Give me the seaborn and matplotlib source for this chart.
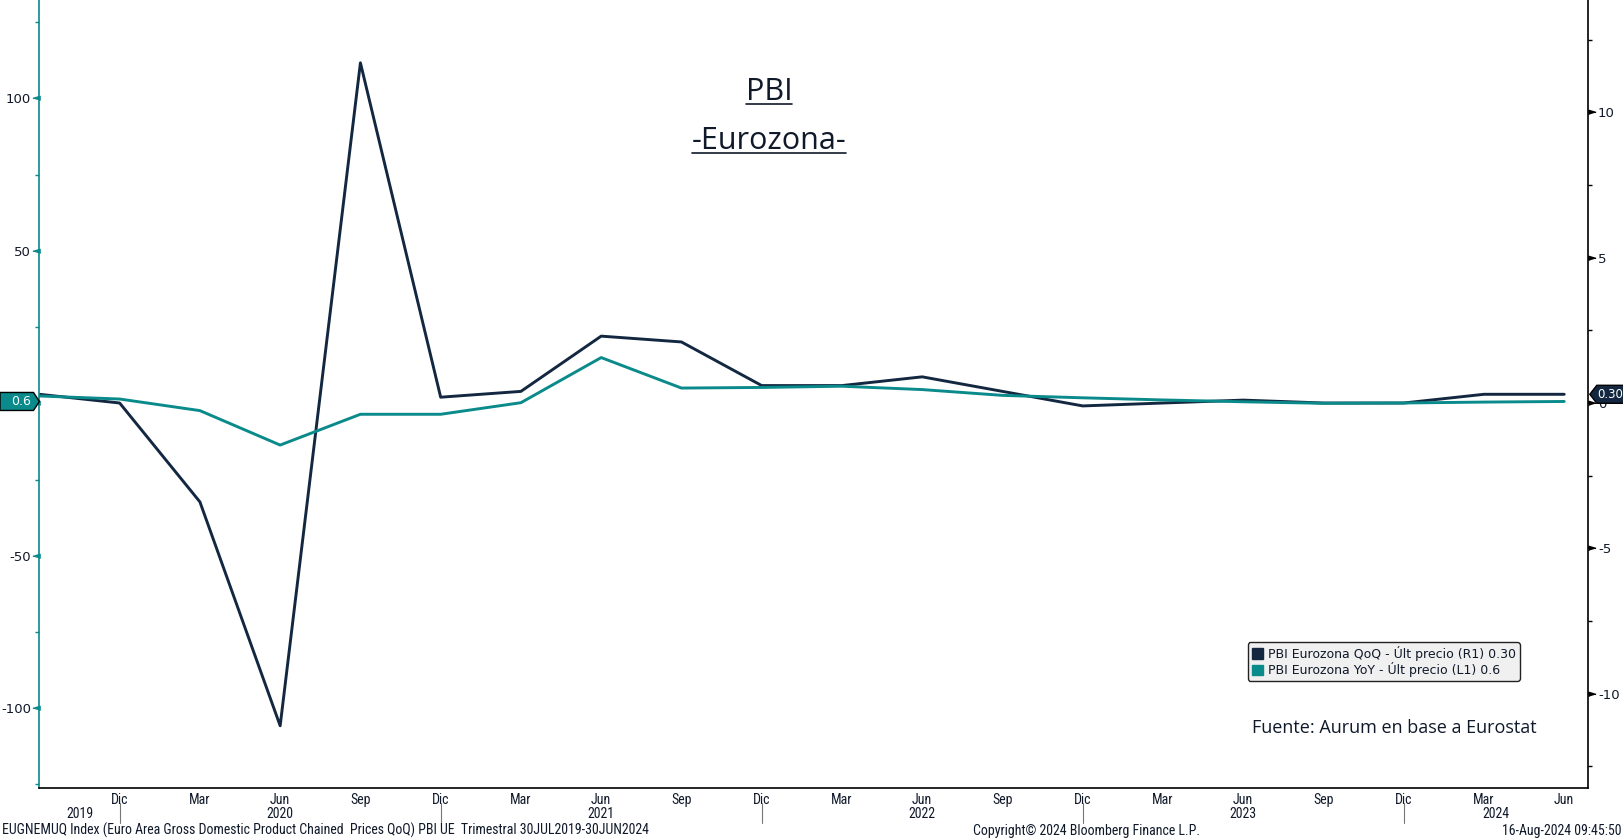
import numpy as np
import pandas as pd
import matplotlib
matplotlib.use('Agg')
import matplotlib.pyplot as plt
import seaborn as sns
from matplotlib import font_manager
from matplotlib.patches import Polygon, Patch
from matplotlib.lines import Line2D
from matplotlib.ticker import MultipleLocator

# ---------------- data ----------------
quarters = ['Sep', 'Dic', 'Mar', 'Jun', 'Sep', 'Dic', 'Mar', 'Jun', 'Sep', 'Dic',
            'Mar', 'Jun', 'Sep', 'Dic', 'Mar', 'Jun', 'Sep', 'Dic', 'Mar', 'Jun']
years = ['2019', '2020', '2021', '2022', '2023', '2024']
qoq = [0.3, 0.0, -3.4, -11.1, 11.7, 0.2, 0.4, 2.3, 2.1, 0.6,
       0.6, 0.9, 0.4, -0.1, 0.0, 0.1, 0.0, 0.0, 0.3, 0.3]
yoy = [2.4, 1.4, -2.4, -13.7, -3.6, -3.6, 0.2, 15.0, 5.0, 5.2,
       5.6, 4.5, 2.6, 1.8, 1.1, 0.5, 0.0, 0.1, 0.4, 0.6]
left_ticks = [-100, -50, 0, 50, 100]
right_ticks = [-10, -5, 0, 5, 10]
qoq_label = 'PBI Eurozona QoQ - Últ precio (R1)'
yoy_label = 'PBI Eurozona YoY - Últ precio (L1)'
last_qoq_txt = '0.30'
last_yoy_txt = '0.6'

df = pd.DataFrame({'pos': np.arange(len(quarters)), 'QoQ': qoq, 'YoY': yoy})

# ---------------- style ----------------
sns.set_theme(style='white')
plt.rcParams['font.family'] = ['DejaVu Sans']
avail = {f.name for f in font_manager.fontManager.ttflist}


def pick(cands, default):
    for c in cands:
        if c in avail:
            return c
    return default


narrow_name = pick(['Liberation Sans Narrow', 'Roboto Condensed', 'Open Sans Condensed'], None)
if narrow_name:
    narrow_kw = dict(family=narrow_name)
else:
    narrow_kw = dict(family='DejaVu Sans', stretch='condensed')
title_font = pick(['Open Sans', 'Lato', 'Roboto'], 'DejaVu Sans')

teal = '#0A8A8A'
navy = '#132840'
txt = '#10192a'

W, H = 1624, 840
fig = plt.figure(figsize=(W / 100, H / 100), dpi=100)
L, R, B, T = 39.4, 1588.3, 788.0, 0.0
ax = fig.add_axes([L / W, 1 - B / H, (R - L) / W, (B - T) / H])
ax2 = ax.twinx()

sns.lineplot(data=df, x='pos', y='YoY', ax=ax, color=teal, lw=2.1)
sns.lineplot(data=df, x='pos', y='QoQ', ax=ax2, color=navy, lw=2.1)
ax.set_zorder(ax2.get_zorder() + 1)
ax.patch.set_visible(False)

xmax = 19.30
ax.set_xlim(0, xmax)
ax.set_ylim(-126.2, 132.3)
ax2.set_ylim(-13.24, 13.86)
for a in (ax, ax2):
    a.set_xlabel('')
    a.set_ylabel('')
    for s in a.spines.values():
        s.set_visible(False)
ax.spines['left'].set_visible(True)
ax.spines['left'].set_color(teal)
ax.spines['left'].set_linewidth(1.2)
ax.spines['bottom'].set_visible(True)
ax.spines['bottom'].set_color('black')
ax.spines['bottom'].set_linewidth(1.2)
ax2.spines['right'].set_visible(True)
ax2.spines['right'].set_color('black')
ax2.spines['right'].set_linewidth(1.2)

# left axis ticks (the 0 label is covered by the last-value marker in the original)
ax.set_yticks(left_ticks)
ax.set_yticklabels(['' if v == 0 else str(v) for v in left_ticks])
ax.yaxis.set_minor_locator(MultipleLocator(25))
ax.tick_params(axis='y', which='major', length=0, pad=6.0, labelsize=9.5, labelcolor=txt,
               left=True)
ax.tick_params(axis='y', which='minor', length=2.6, width=1, color=teal, direction='out', left=True)
# right axis ticks
ax2.set_yticks(right_ticks)
ax2.set_yticklabels([str(v) for v in right_ticks])
ax2.yaxis.set_minor_locator(MultipleLocator(2.5))
ax2.tick_params(axis='y', which='major', length=0, pad=7.0, labelsize=9.5, labelcolor=txt,
                right=True)
ax2.tick_params(axis='y', which='minor', length=2.6, width=1, color='black', direction='out', right=True)

# triangle major tick markers
tri_l = [(-1, 0), (1, 0.6), (1, -0.6)]
tri_r = [(1, 0), (-1, 0.6), (-1, -0.6)]
ax.plot([-3.6 / (R - L)] * len(left_ticks), left_ticks, ls='none', marker=tri_l, ms=5.2,
        color=teal, transform=ax.get_yaxis_transform(), clip_on=False)
ax2.plot([1 + 3.6 / (R - L)] * len(right_ticks), right_ticks, ls='none', marker=tri_r, ms=5.2,
         color='black', transform=ax2.get_yaxis_transform(), clip_on=False)

# x axis labels
ax.set_xticks(df['pos'][1:])
ax.set_xticklabels(quarters[1:])
ax.tick_params(axis='x', length=0, pad=3.3, labelsize=10, labelcolor=txt, bottom=True)
for lab in ax.get_xticklabels():
    lab.set_fontfamily(narrow_kw['family'])
    if 'stretch' in narrow_kw:
        lab.set_fontstretch(narrow_kw['stretch'])

dec_pos = [p for p, q in zip(df['pos'], quarters) if q == 'Dic']
xt = ax.get_xaxis_transform()
for p in dec_pos:
    ax.plot([p, p], [(B - 803) / (B - T), (B - 823) / (B - T)], transform=xt,
            color='#777777', lw=0.8, clip_on=False)
bounds = [0] + dec_pos + [xmax]
for i, yr in enumerate(years):
    c = (bounds[i] + bounds[i + 1]) / 2
    ax.text(c, (B - 814) / (B - T), yr, transform=xt, ha='center', va='center',
            fontsize=10, color=txt, **narrow_kw)

# ---------------- title ----------------
t1 = fig.text(769 / W, 1 - 100 / H, 'PBI', ha='center', va='baseline', fontsize=22,
              color=txt, family=title_font)
t2 = fig.text(769 / W, 1 - 149.3 / H, '-Eurozona-', ha='center', va='baseline', fontsize=22,
              color=txt, family=title_font)
fig.text(1537 / W, 1 - 733 / H, 'Fuente: Aurum en base a Eurostat', ha='right', va='baseline',
         fontsize=13, color=txt, family=title_font)

# footer
fig.text(2 / W, 1 - 830.5 / H,
         'EUGNEMUQ Index (Euro Area Gross Domestic Product Chained  Prices QoQ) PBI UE  Trimestral 30JUL2019-30JUN2024',
         ha='left', va='center', fontsize=10, color=txt, **narrow_kw)
fig.text(973 / W, 1 - 830.5 / H, 'Copyright\u00a9 2024 Bloomberg Finance L.P.', ha='left', va='center',
         fontsize=10, color=txt, **narrow_kw)
fig.text(1622 / W, 1 - 830.5 / H, '16-Aug-2024 09:45:50', ha='right', va='center',
         fontsize=10, color=txt, **narrow_kw)

# legend
handles = [Patch(facecolor=navy, edgecolor=navy), Patch(facecolor=teal, edgecolor=teal)]
labels = [f'{qoq_label} {last_qoq_txt}', f'{yoy_label} {last_yoy_txt}']
leg = fig.legend(handles, labels, loc='upper left', bbox_to_anchor=(1248 / W, 1 - 642 / H),
                 frameon=True, fancybox=True, facecolor='#f0f0f0', edgecolor='#222222',
                 framealpha=1, fontsize=9, handlelength=0.9, handleheight=0.9,
                 handletextpad=0.4, borderpad=0.3, labelspacing=0.1, borderaxespad=0)
for tx in leg.get_texts():
    tx.set_color(txt)
leg.get_frame().set_linewidth(1.0)

# ---------------- underlines & value markers ----------------
fig.canvas.draw()
rend = fig.canvas.get_renderer()
for t, yb in ((t1, 103.5), (t2, 152.5)):
    bb = t.get_window_extent(rend)
    fig.add_artist(Line2D([bb.x0 / W, bb.x1 / W], [1 - yb / H] * 2, color=txt, lw=1.2,
                          transform=fig.transFigure))

yl = ax.transData.transform((0, yoy[-1]))[1]
yr_ = ax2.transData.transform((0, qoq[-1]))[1]
hh = 9.0
pl = np.array([(0, yl - hh), (33.5, yl - hh), (L, yl), (33.5, yl + hh), (0, yl + hh)])
fig.add_artist(Polygon(pl / [W, H], closed=True, facecolor=teal, edgecolor='black', lw=1.0,
                       transform=fig.transFigure, zorder=5))
fig.text(21 / W, yl / H, last_yoy_txt, ha='center', va='center', fontsize=9, color='white', zorder=6)
pr = np.array([(R + 1.5, yr_), (R + 8.5, yr_ + hh), (W, yr_ + hh), (W, yr_ - hh), (R + 8.5, yr_ - hh)])
fig.add_artist(Polygon(pr / [W, H], closed=True, facecolor=navy, edgecolor='black', lw=1.0,
                       transform=fig.transFigure, zorder=5))
fig.text(1610.5 / W, yr_ / H, last_qoq_txt, ha='center', va='center', fontsize=8.5, color='white', zorder=6)

fig.savefig('out.png', dpi=100)
